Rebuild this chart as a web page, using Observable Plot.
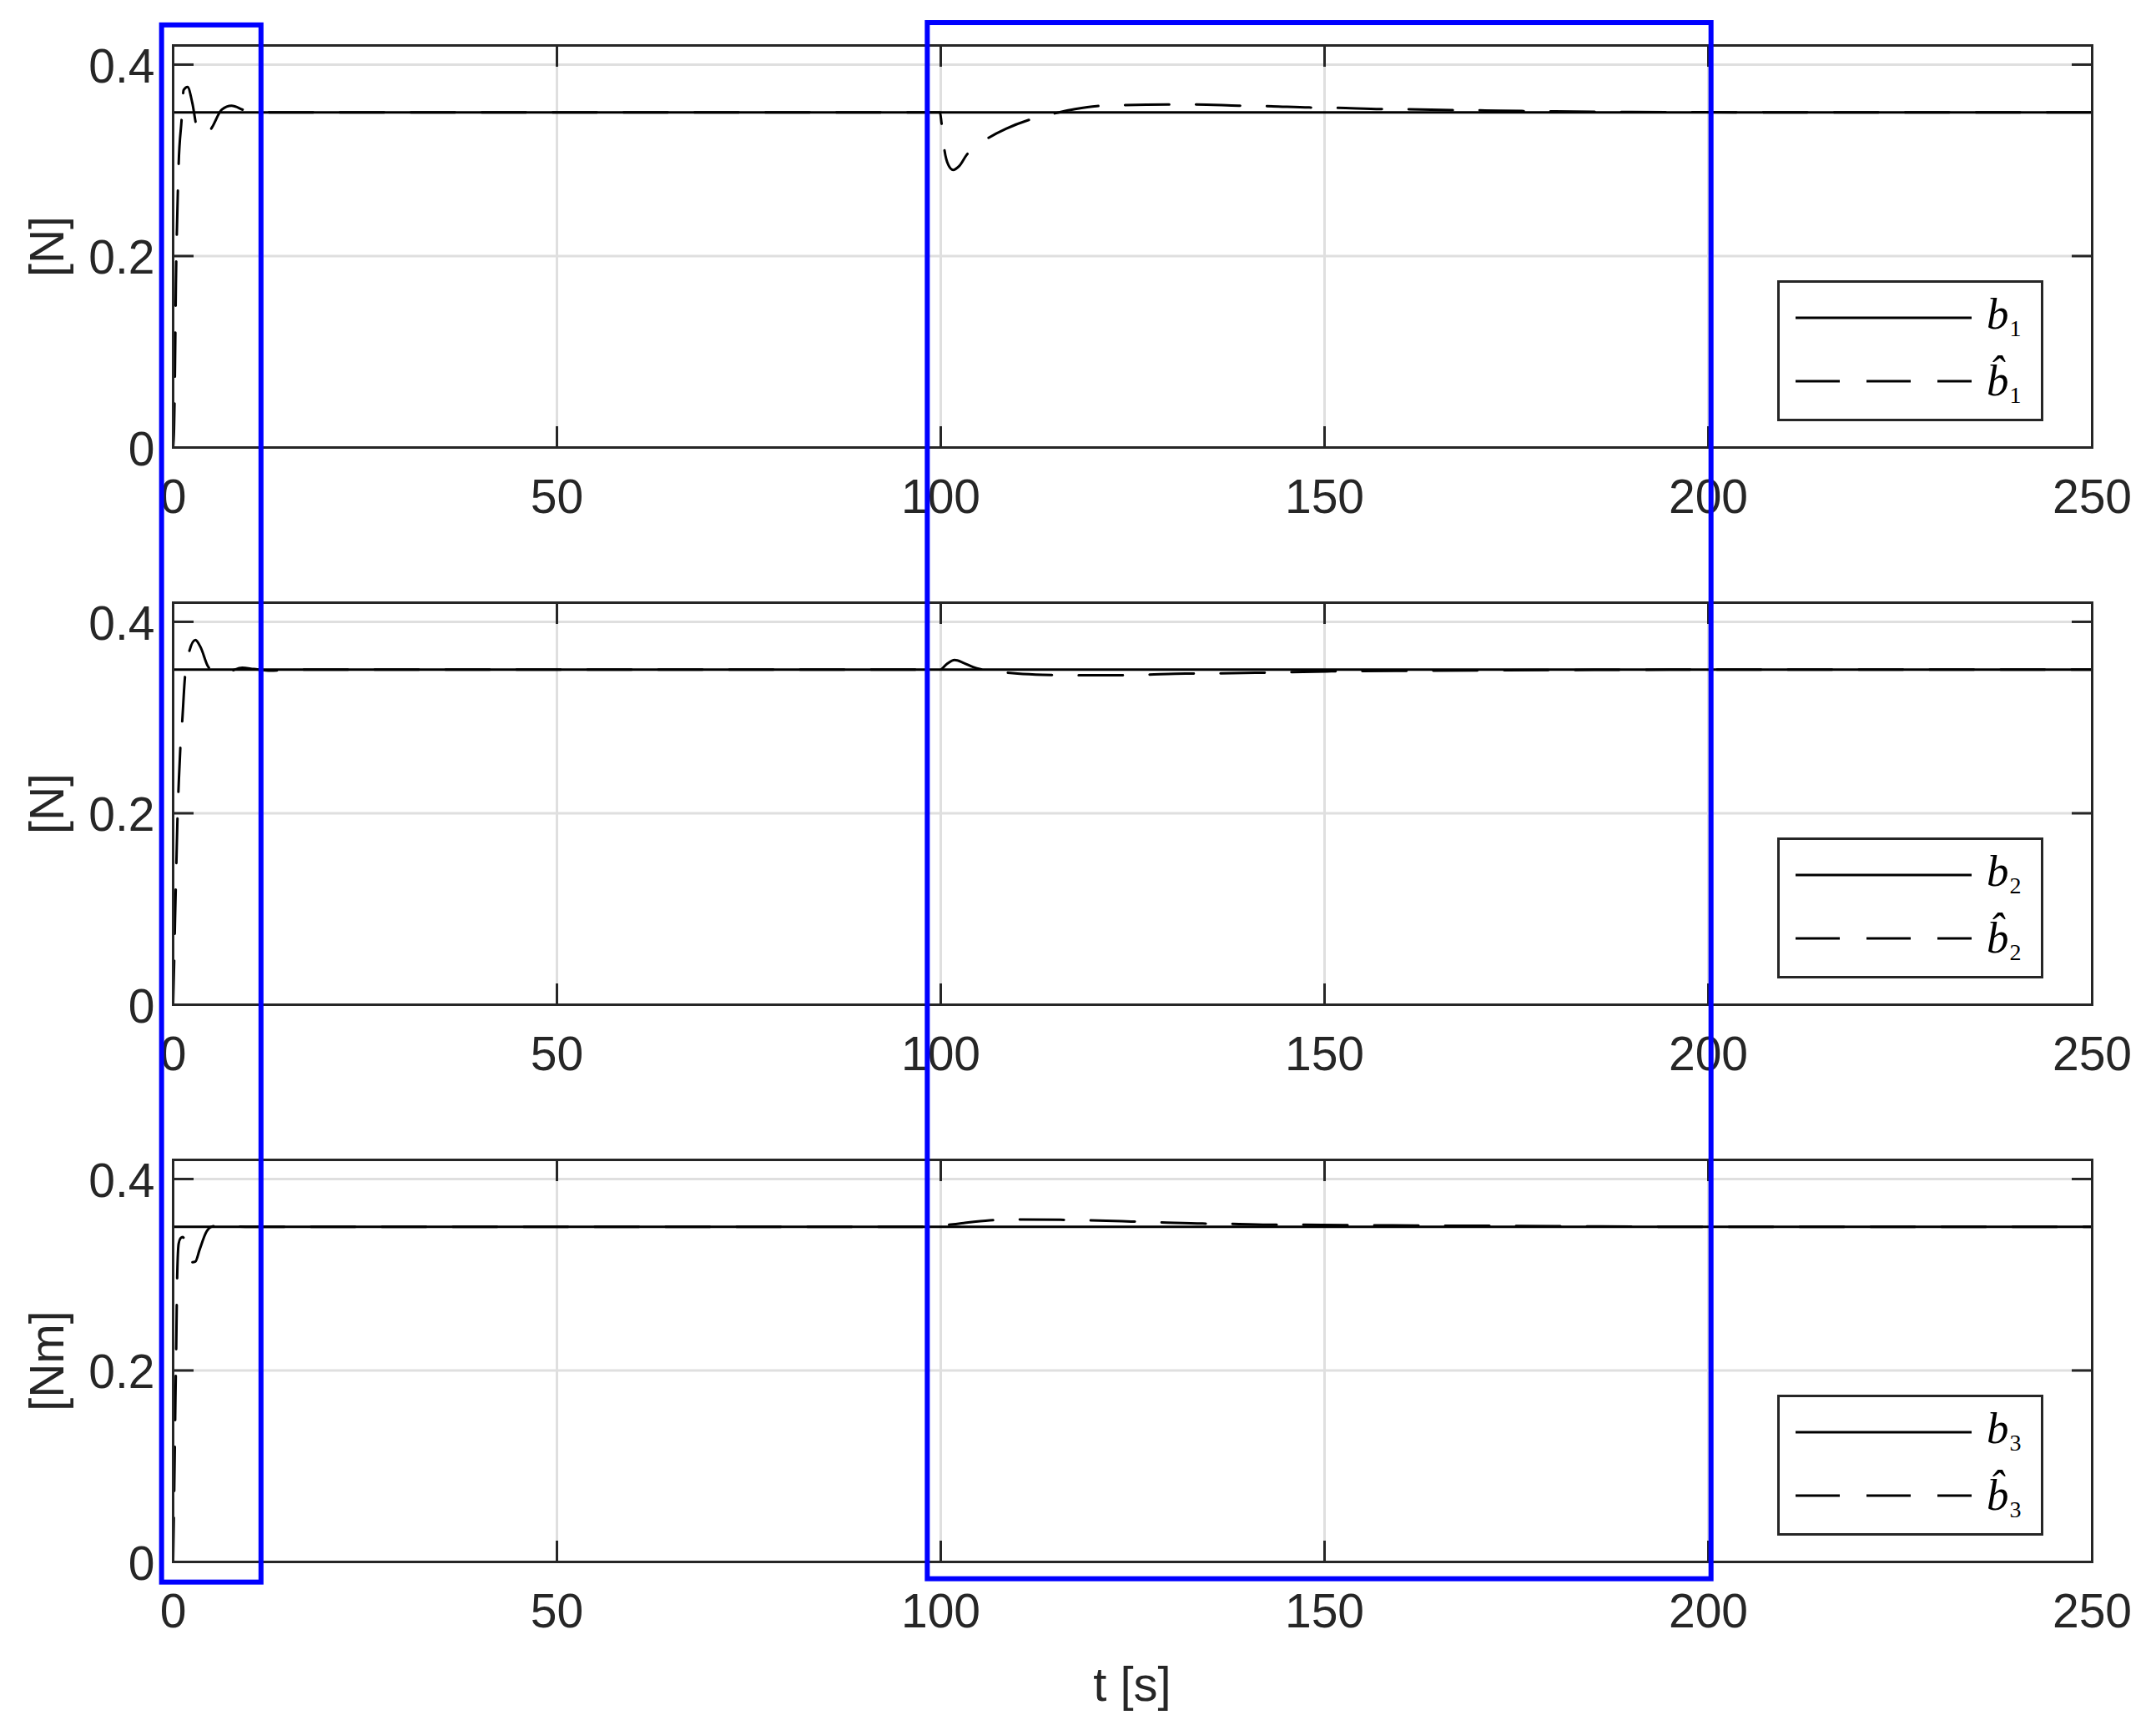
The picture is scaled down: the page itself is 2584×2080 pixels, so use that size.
<!DOCTYPE html>
<html><head><meta charset="utf-8">
<script src="https://cdn.jsdelivr.net/npm/d3@7"></script>
<script src="https://cdn.jsdelivr.net/npm/@observablehq/plot@0.6"></script>
<style>
html,body{margin:0;padding:0;background:#fff;}
#wrap{position:relative;width:2584px;height:2080px;overflow:hidden;background:#fff;}
.panel{position:absolute;left:0;}
.legend{position:absolute;}
#xlabel{position:absolute;left:207px;width:2300px;text-align:center;font-family:"Liberation Sans",Arial,sans-serif;font-size:58px;color:#262626;line-height:58px;top:1990px;}
#overlay{position:absolute;left:0;top:0;pointer-events:none;}
</style></head><body><div id="wrap"></div>
<script>
// ---- data ----
const xTicks = [0, 50, 100, 150, 200, 250];
const yTicks = [0, 0.2, 0.4];
const yLabels = ["[N]", "[N]", "[Nm]"];
const xLabel = "t [s]";
const legendSubs = ["1", "2", "3"];

// true parameter b_i (solid)
const bTrueT = [0, 250];
const bTrueV = [0.35, 0.35];

// estimate b1 hat (dashed)
const b1hatT = [0, 0.12, 0.25, 0.36, 0.54, 0.72, 1.09, 1.37, 1.88, 2.5, 3.08, 3.8, 4.5, 5.07, 6.34, 7.6, 9.4, 11, 13, 20, 60,
  99.9, 100.1, 100.5, 101, 101.6, 102.4, 103.4, 104.6, 106.2, 108.5, 111.4, 114.8, 117.5, 120.3, 123.9, 129.6, 133.2, 138.8, 142.4,
  148, 151.5, 157.3, 160.7, 166.5, 170, 175.7, 180, 185, 190, 200, 215, 250];
const b1hatV = [0, 0.02, 0.09, 0.17, 0.243, 0.296, 0.341, 0.3735, 0.3766, 0.36, 0.335, 0.327, 0.328, 0.3345, 0.353, 0.357, 0.352, 0.3505, 0.35, 0.35, 0.35,
  0.35, 0.339, 0.31, 0.295, 0.29, 0.294, 0.306, 0.315, 0.3234, 0.333, 0.342, 0.349, 0.3535, 0.3566, 0.3577, 0.3583, 0.3583, 0.3571, 0.3566,
  0.3552, 0.3548, 0.3535, 0.3533, 0.3525, 0.3522, 0.3515, 0.3512, 0.3508, 0.3505, 0.3502, 0.35, 0.35];

// estimate b2 hat (dashed)
const b2hatT = [0, 0.12, 0.25, 0.4, 0.55, 0.75, 0.95, 1.2, 1.5, 2.1, 2.9, 3.6, 4.5, 5.5, 6.5, 7.5, 9.0, 10.5, 12.7, 15, 20, 60,
  99.9, 100.8, 101.8, 103, 104.2, 105.5, 107.7, 110, 113.3, 116.9, 122.6, 126.1, 131.9, 135.3, 141, 144.5, 150.3, 159.5, 170, 180, 190, 200, 250];
const b2hatV = [0, 0.04, 0.09, 0.14, 0.19, 0.235, 0.27, 0.298, 0.338, 0.369, 0.381, 0.373, 0.354, 0.347, 0.3462, 0.3485, 0.352, 0.3507, 0.349, 0.35, 0.35, 0.35,
  0.35, 0.356, 0.360, 0.357, 0.3528, 0.350, 0.3476, 0.346, 0.3447, 0.3442, 0.3442, 0.3447, 0.3459, 0.3461, 0.3467, 0.3473, 0.3482, 0.3487, 0.3492, 0.3496, 0.3499, 0.35, 0.35];

// estimate b3 hat (dashed)
const b3hatT = [0, 0.1, 0.2, 0.3, 0.4, 0.47, 0.52, 0.72, 0.95, 1.26, 1.6, 2.0, 2.46, 2.9, 3.44, 4.35, 5.07, 6, 8, 10, 20, 60,
  99.9, 100.7, 103, 106.4, 110, 115.6, 119.1, 124.8, 128.4, 134.1, 137.6, 143.3, 146.8, 152.5, 156.1, 161.7, 170.9, 180, 190, 200, 250];
const b3hatV = [0, 0.05, 0.11, 0.17, 0.222, 0.267, 0.295, 0.3324, 0.338, 0.3395, 0.333, 0.321, 0.313, 0.3138, 0.326, 0.345, 0.3504, 0.3515, 0.3505, 0.35, 0.35, 0.35,
  0.35, 0.3516, 0.354, 0.3568, 0.3577, 0.3574, 0.3568, 0.3556, 0.3548, 0.3535, 0.3532, 0.3523, 0.3522, 0.3518, 0.3517, 0.3513, 0.3511, 0.3507, 0.3503, 0.35, 0.35];

// highlight boxes (data units: t range, top value in panel 1, bottom value in panel 3)
const boxT0 = [-1.45, 98.3];
const boxT1 = [11.5, 200.4];
const boxTopV = [0.441, 0.4435];
const boxBottomV = [-0.0215, -0.018];

// ---- layout ----
const W = 2584, ML = 207, MR = 77, MT = 54, PH = 482;
const tops = [0, 668, 1336];
const heights = [668, 668, 744];
const ink = "#262626";

function makePanel(k, hatT, hatV) {
  const truth = bTrueT.map((t, i) => ({t, v: bTrueV[i]}));
  const est = hatT.map((t, i) => ({t, v: hatV[i]}));
  return Plot.plot({
    width: W, height: heights[k],
    marginLeft: ML, marginRight: MR, marginTop: MT, marginBottom: heights[k] - MT - PH,
    style: {background: "white", color: ink, fontFamily: '"Liberation Sans", Arial, sans-serif', fontSize: "57px", overflow: "visible"},
    x: {domain: [0, 250], label: null},
    y: {domain: [0, 0.42], label: null},
    marks: [
      Plot.gridX({ticks: xTicks, stroke: "#dfdfdf", strokeOpacity: 1, strokeWidth: 3}),
      Plot.gridY({ticks: yTicks, stroke: "#dfdfdf", strokeOpacity: 1, strokeWidth: 3}),
      Plot.line(truth, {x: "t", y: "v", stroke: "#000", strokeWidth: 3}),
      Plot.line(est, {x: "t", y: "v", stroke: "#000", strokeWidth: 3, strokeDasharray: "53,32", curve: "monotone-x"}),
      Plot.frame({stroke: ink, strokeWidth: 3}),
      Plot.axisX({ticks: xTicks, anchor: "bottom", tickSize: 0, tickPadding: 38, tickFormat: d => String(d), label: null}),
      Plot.axisX({ticks: xTicks, anchor: "bottom", tickSize: -25, strokeWidth: 3, tickFormat: () => "", label: null}),
      Plot.axisX({ticks: xTicks, anchor: "top", tickSize: -25, strokeWidth: 3, tickFormat: () => "", label: null}),
      Plot.axisY({ticks: yTicks, anchor: "left", tickSize: 0, tickPadding: 22, dy: 3, tickFormat: d => d === 0 ? "0" : d.toFixed(1),
        label: yLabels[k], labelAnchor: "center", labelArrow: "none", labelOffset: 172}),
      Plot.axisY({ticks: yTicks, anchor: "left", tickSize: -25, strokeWidth: 3, tickFormat: () => "", label: null}),
      Plot.axisY({ticks: yTicks, anchor: "right", tickSize: -25, strokeWidth: 3, tickFormat: () => "", label: null})
    ]
  });
}

function makeLegend(k) {
  const d = document.createElement("div");
  d.className = "legend";
  d.style.left = (W - MR - 58 - 319) + "px";
  d.style.top = (tops[k] + MT + PH - 31 - 169) + "px";
  const serif = '"Liberation Serif", "DejaVu Serif", serif';
  const s = legendSubs[k];
  d.innerHTML = `<svg width="319" height="169" xmlns="http://www.w3.org/2000/svg">
    <rect x="1.5" y="1.5" width="316" height="166" fill="#fff" stroke="${ink}" stroke-width="3"/>
    <line x1="22" x2="233" y1="45" y2="45" stroke="#000" stroke-width="3"/>
    <line x1="22" x2="233" y1="121" y2="121" stroke="#000" stroke-width="3" stroke-dasharray="53,32"/>
    <text x="251" y="58" font-family='${serif}' font-size="53" fill="#000"><tspan font-style="italic">b</tspan><tspan font-size="28" dx="1" dy="9">${s}</tspan></text>
    <text x="251" y="138" font-family='${serif}' font-size="53" fill="#000"><tspan font-style="italic">b\u0302</tspan><tspan font-size="28" dx="1" dy="9">${s}</tspan></text>
  </svg>`;
  return d;
}

const wrap = document.getElementById("wrap");
const hats = [[b1hatT, b1hatV], [b2hatT, b2hatV], [b3hatT, b3hatV]];
const plots = hats.map(([T, V], k) => {
  const p = makePanel(k, T, V);
  p.classList.add("panel");
  p.style.top = tops[k] + "px";
  wrap.appendChild(p);
  wrap.appendChild(makeLegend(k));
  return p;
});

const xl = document.createElement("div");
xl.id = "xlabel";
xl.textContent = xLabel;
wrap.appendChild(xl);

// highlight boxes drawn through the panel scales
const sx = plots[0].scale("x");
const syTop = plots[0].scale("y");
const syBot = plots[2].scale("y");
const ns = "http://www.w3.org/2000/svg";
const ov = document.createElementNS(ns, "svg");
ov.setAttribute("id", "overlay");
ov.setAttribute("width", W);
ov.setAttribute("height", 2080);
boxT0.forEach((t0, i) => {
  const x0 = sx.apply(t0), x1 = sx.apply(boxT1[i]);
  const y0 = syTop.apply(boxTopV[i]) + tops[0];
  const y1 = syBot.apply(boxBottomV[i]) + tops[2];
  const r = document.createElementNS(ns, "rect");
  r.setAttribute("x", x0); r.setAttribute("y", y0);
  r.setAttribute("width", x1 - x0); r.setAttribute("height", y1 - y0);
  r.setAttribute("fill", "none"); r.setAttribute("stroke", "#0000ff"); r.setAttribute("stroke-width", 6);
  ov.appendChild(r);
});
wrap.appendChild(ov);
</script>
</body></html>
